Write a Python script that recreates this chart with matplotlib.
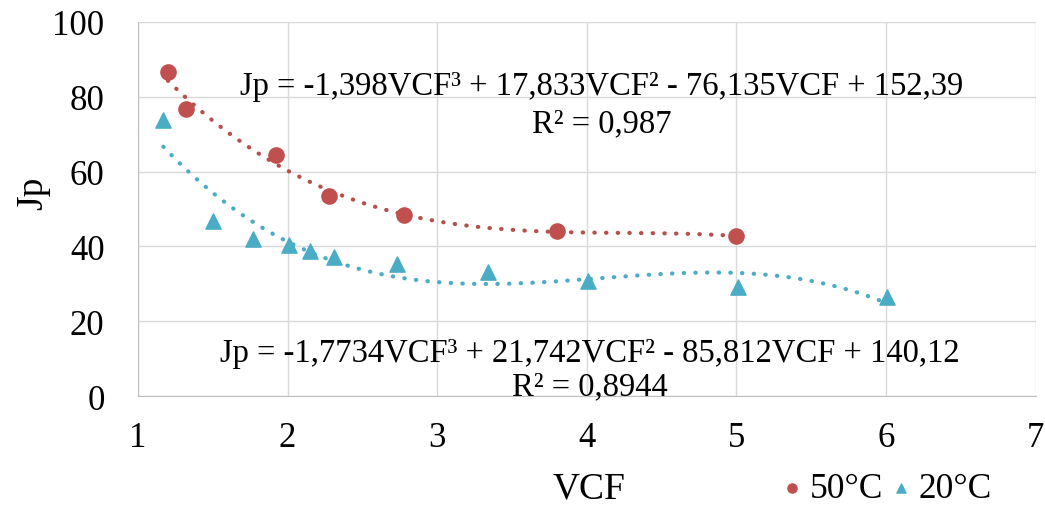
import numpy as np
import matplotlib
matplotlib.use("Agg")
import matplotlib.pyplot as plt

plt.rcParams['font.family'] = ['Liberation Serif', 'DejaVu Serif']

# 50°C series
vcf_50 = [1.20, 1.32, 1.92, 2.28, 2.78, 3.80, 5.00]
jp_50 = [86.5, 76.7, 64.4, 53.6, 48.3, 44.0, 42.8]

# 20°C series
vcf_20 = [1.17, 1.50, 1.77, 2.01, 2.15, 2.31, 2.73, 3.34, 4.01, 5.01, 6.01]
jp_20 = [73.7, 46.9, 42.0, 40.3, 38.9, 37.1, 35.3, 33.2, 30.8, 29.1, 26.4]

# trendline coefficients as printed on the chart (cubic, highest power first)
coef_50 = [-1.398, 17.833, -76.135, 152.39]
coef_20 = [-1.7734, 21.742, -85.812, 140.12]
eq_50 = "Jp = -1,398VCF³ + 17,833VCF² - 76,135VCF + 152,39\nR² = 0,987"
eq_20 = "Jp = -1,7734VCF³ + 21,742VCF² - 85,812VCF + 140,12\nR² = 0,8944"

red = "#C0504D"
blue = "#4BACC6"

fig = plt.figure(figsize=(10.45, 5.06), dpi=100)
ax = fig.add_axes([0.132, 0.215, 0.859, 0.74])

# trendlines over the data range
xs = np.linspace(min(vcf_50), max(vcf_50), 200)
ax.plot(xs, np.polyval(coef_50, xs), color="#B5504C", lw=3.0,
        dashes=(0.1, 2.7), dash_capstyle="round", zorder=2)
xs2 = np.linspace(min(vcf_20), max(vcf_20), 200)
ax.plot(xs2, np.polyval(coef_20, xs2), color=blue, lw=3.0,
        dashes=(0.1, 2.7), dash_capstyle="round", zorder=2)

ax.scatter(vcf_50, jp_50, s=120, color=red, marker="o", label="50°C", zorder=3)
ax.scatter(vcf_20, jp_20, s=120, color=blue, marker="^", label="20°C", zorder=3)

ax.set_xlim(1, 7)
ax.set_ylim(0, 100)
ax.set_xticks(range(1, 8))
ax.set_yticks(range(0, 101, 20))
ax.grid(True, color="#D9D9D9", lw=1)
ax.set_axisbelow(True)
for s in ["top", "right"]:
    ax.spines[s].set_visible(False)
for s in ["left", "bottom"]:
    ax.spines[s].set_color("#BFBFBF")
ax.tick_params(length=0, labelsize=25, pad=24)
ax.tick_params(axis="x", pad=18)

ax.set_xlabel("VCF", fontsize=27)
ax.set_ylabel("Jp", fontsize=27)
ax.xaxis.set_label_coords(0.503, -0.2)
ax.yaxis.set_label_coords(-0.098, 0.545)

ax.text(4.1, 78.0, eq_50, ha="center", va="center", fontsize=23.5,
        linespacing=1.3)
ax.text(4.02, 7.2, eq_20, ha="center", va="center", fontsize=23.5,
        linespacing=1.1)

fig.legend(loc="center right", bbox_to_anchor=(0.966, 0.032), ncol=2,
           frameon=False, fontsize=25.5, markerscale=0.6, handletextpad=0.2,
           columnspacing=0.2, handlelength=0.6, borderpad=0)

fig.savefig("out.png", dpi=100)
